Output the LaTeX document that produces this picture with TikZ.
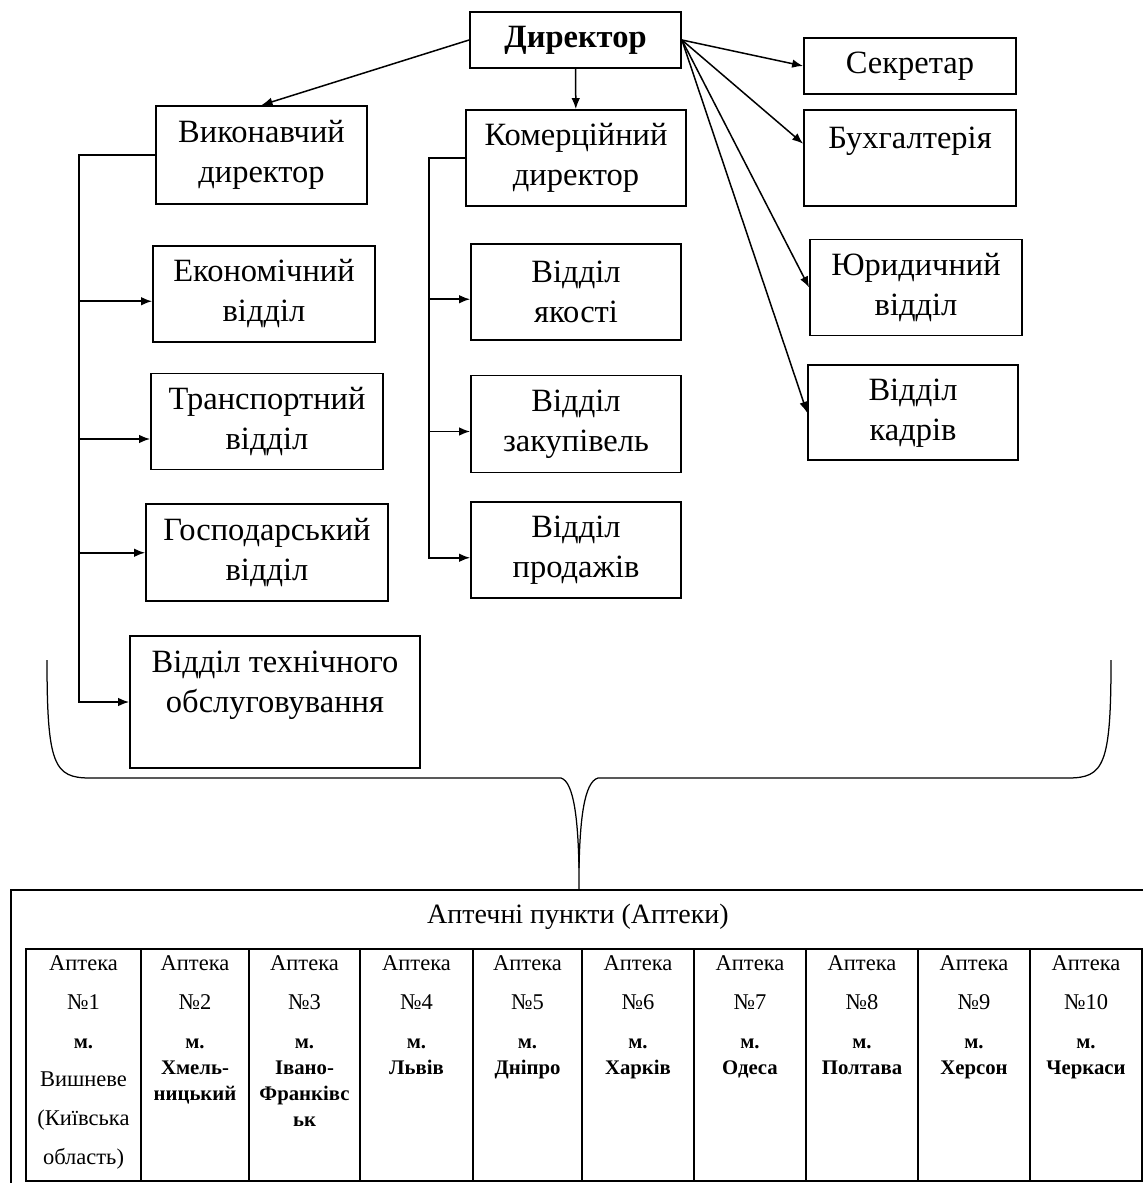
\documentclass[tikz,border=0pt]{standalone}
\usepackage{fontspec}
\setmainfont{Liberation Serif}
\usetikzlibrary{arrows.meta,positioning}
\newcommand{\ctyb}[1]{{\fontsize{8.3}{10.5}\selectfont\bfseries #1}}

\begin{document}
\begin{tikzpicture}[
  x=0.4pt, y=-0.4pt,
  box/.style={draw, line width=0.7pt, align=center, font=\fontsize{13}{16}\selectfont,
              minimum height=38.4pt, inner sep=2pt},
  aptcell/.style={align=center, font=\fontsize{9}{10.5}\selectfont, inner sep=0pt},
  >={Latex[length=4.4pt, width=3.4pt]}, line width=0.6pt]
  \path[use as bounding box, clip] (0,0) rectangle (1143,1183);
  \node[box, font=\fontsize{13}{16}\selectfont\bfseries, minimum width=84.4pt, minimum height=22.4pt] (dir) at (575.5,40) {Директор};
  \node[box, minimum width=84.4pt, minimum height=39.2pt] (vyk) at (261.5,155) {Виконавчий\\директор};
  \node[box, minimum width=88pt] (kom) at (576,158) {Комерційний\\директор};
  \node[box, minimum width=84.8pt, minimum height=22.4pt] (sekr) at (910,66) {Секретар};
  \node[box, minimum width=84.8pt, below=5.6pt of sekr] (bukh) {Бухгалтерія\\\mbox{}};
  \node[box, minimum width=84.8pt, below=12.8pt of bukh, xshift=2.4pt] (jur) {Юридичний\\відділ};
  \node[box, minimum width=84pt, minimum height=38pt, below=11.2pt of jur, xshift=-1.2pt] (kadr) {Відділ\\кадрів};
  \node[box, minimum width=88.8pt, below=16pt of vyk, xshift=1pt] (ekon) {Економічний\\відділ};
  \node[box, minimum width=92.8pt, below=12pt of ekon, xshift=1.2pt] (trans) {Транспортний\\відділ};
  \node[box, minimum width=96.8pt, minimum height=38.8pt, below=13.2pt of trans] (gosp) {Господарський\\відділ};
  \node[box, minimum width=116pt, minimum height=52.8pt, below=13.2pt of gosp, xshift=3.2pt] (tekh) {Відділ технічного\\обслуговування\\\mbox{}};
  \node[box, minimum width=84pt, below=14.4pt of kom] (jak) {Відділ\\якості};
  \node[box, minimum width=84pt, minimum height=38.8pt, below=13.6pt of jak] (zak) {Відділ\\закупівель};
  \node[box, minimum width=84pt, below=11.2pt of zak] (prod) {Відділ\\продажів};
  \draw[->] (dir.west) -- (vyk.north);
  \draw[->] (dir) -- (kom);
  \draw[->] (dir.east) -- (sekr.west);
  \draw[->] (dir.east) -- ([yshift=5.6pt]bukh.west);
  \draw[->] (dir.east) -- (jur.west);
  \draw[->] (dir.east) -- (kadr.west);
  \coordinate (trunkL) at (79,0);
  \coordinate (trunkM) at (429,0);
  \draw[->] (vyk.west) -- (vyk.west -| trunkL) |- (tekh.west);
  \draw[->] ([yshift=-3pt]ekon.west -| trunkL) -- ([yshift=-3pt]ekon.west);
  \draw[->] ([yshift=-7pt]trans.west -| trunkL) -- ([yshift=-7pt]trans.west);
  \draw[->] (gosp.west -| trunkL) -- (gosp.west);
  \draw[->] (kom.west) -- (kom.west -| trunkM) |- ([yshift=-3pt]prod.west);
  \draw[->] ([yshift=-3pt]jak.west -| trunkM) -- ([yshift=-3pt]jak.west);
  \draw[->] ([yshift=-3pt]zak.west -| trunkM) -- ([yshift=-3pt]zak.west);
  \coordinate (brL) at (47,660);
  \coordinate (brR) at (1111,660);
  \coordinate (brTip) at (579,890);
  \draw[line width=0.5pt] (brL) .. controls (47,765) and (54,778) .. (90,778) -- (561,778)
        .. controls (574,782) and (578,820) .. (579,868) -- (brTip);
  \draw[line width=0.5pt] (brR) .. controls (1111,765) and (1104,778) .. (1068,778) -- (598,778)
        .. controls (584,782) and (580,820) .. (579,868);
  \draw (11,890) rectangle (1180,1200);
  \node[font=\fontsize{11.2}{13}\selectfont] (title) at (578,917) {Аптечні пункти (Аптеки)};
  \draw (26,949) rectangle (1142,1181);
  \foreach \xd in {141,249,360,473,582,694,806,918,1030}
    \draw (\xd,949) -- (\xd,1181);
  \node[aptcell, anchor=north] (ap1) at (83.5,955) {Аптека\\[5pt]№1\\[5pt]\ctyb{м.}\\[5pt]Вишневе\\[5pt](Київська\\[5pt]область)};
  \foreach \cx/\num/\city in {195/2/{\ctyb{Хмель-}\\\ctyb{ницький}},
      304.5/3/{\ctyb{Івано-}\\\ctyb{Франківс}\\\ctyb{ьк}},
      416.5/4/\ctyb{Львів}, 527.5/5/\ctyb{Дніпро}, 638/6/\ctyb{Харків},
      750/7/\ctyb{Одеса}, 862/8/\ctyb{Полтава}, 974/9/\ctyb{Херсон},
      1086/10/\ctyb{Черкаси}}
    \node[aptcell, anchor=north] (ap\num) at (\cx,955) {Аптека\\[5pt]№\num\\[5pt]\ctyb{м.}\\\city};
\end{tikzpicture}
\end{document}
